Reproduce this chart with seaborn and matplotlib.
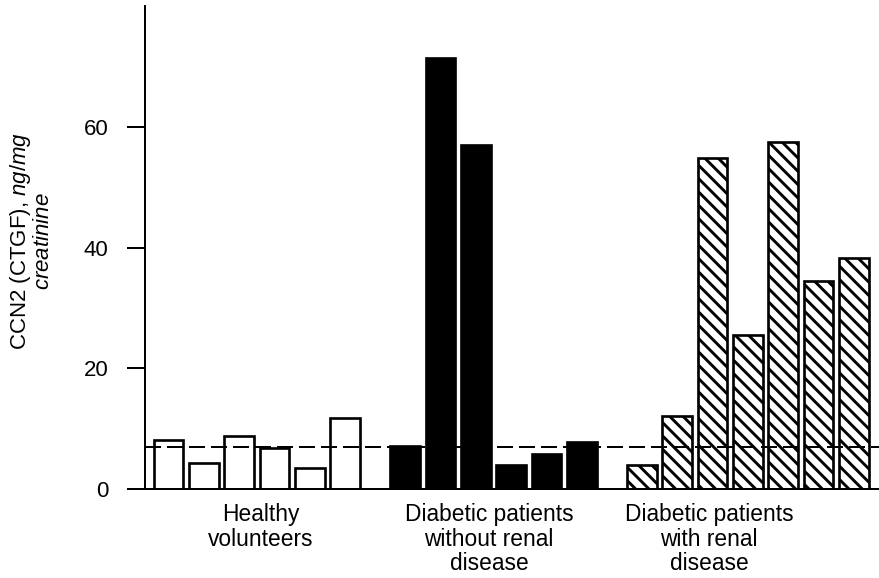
import matplotlib
matplotlib.use("Agg")
import matplotlib.pyplot as plt
import numpy as np
import pandas as pd
import seaborn as sns

# Urinary CCN2 (CTGF) per subject, ng/mg creatinine
healthy = [8.2, 4.4, 8.8, 6.9, 3.5, 11.8]
diabetic_no_renal = [7.1, 71.4, 57.0, 4.0, 5.8, 7.9]
diabetic_renal = [4.0, 12.2, 54.8, 25.5, 57.4, 34.5, 38.3]
cutoff = 7.0

groups = ["Healthy\nvolunteers",
          "Diabetic patients\nwithout renal\ndisease",
          "Diabetic patients\nwith renal\ndisease"]
group_values = [healthy, diabetic_no_renal, diabetic_renal]
group_fill = ["white", "black", "white"]
group_hatch = [None, None, "\\\\"]
y_ticks = [0, 20, 40, 60]

# Bar slots: one unit per subject, with a spacer between groups
group_gap = 0.7
rows = []
start = 0.0
group_starts = []
for g, vals in zip(groups, group_values):
    group_starts.append(start)
    for i, v in enumerate(vals):
        rows.append({"pos": round(start + i, 3), "value": v, "group": g})
    start += len(vals) + group_gap
df = pd.DataFrame(rows)

# Group captions sit slightly off the group centres
label_shift = [0.1, -0.13, -1.1]
label_pos = [s + (len(v) - 1) / 2 + d
             for s, v, d in zip(group_starts, group_values, label_shift)]

sns.set_theme(style="white")
plt.rcParams["font.family"] = ["Liberation Sans", "DejaVu Sans"]
plt.rcParams["mathtext.fontset"] = "custom"
plt.rcParams["mathtext.rm"] = "Liberation Sans"
plt.rcParams["mathtext.it"] = "Liberation Sans:italic"
plt.rcParams["hatch.linewidth"] = 2.6
plt.rcParams["hatch.color"] = "black"
for key in ("text.color", "axes.labelcolor", "xtick.color", "ytick.color"):
    plt.rcParams[key] = "black"

DPI = 80
fig = plt.figure(figsize=(879 / DPI, 578 / DPI), dpi=DPI)
ax = fig.add_axes([0.165, 0.1535, 0.835, 0.8365])

sns.barplot(data=df, x="pos", y="value", hue="group", hue_order=groups,
            palette=dict(zip(groups, group_fill)), native_scale=True,
            dodge=False, width=0.84, errorbar=None, legend=False,
            edgecolor="black", linewidth=2.4, ax=ax, zorder=2)

for cont, h in zip(ax.containers, group_hatch):
    if h:
        for p in cont.patches:
            p.set_hatch(h)

ax.axhline(cutoff, color="black", linewidth=1.8, dashes=(8, 3), zorder=3)

last = df["pos"].iloc[-1]
ax.set_xlim(-0.665, last + 0.71)
ax.set_ylim(0, 80)

ax.set_yticks(y_ticks)
ax.set_yticklabels([str(t) for t in y_ticks], fontsize=20)
ax.tick_params(axis="y", length=16, width=1.8, pad=17, color="black",
               direction="out", left=True)

ax.set_xticks(label_pos)
ax.set_xticklabels(groups, fontsize=20.5)
ax.tick_params(axis="x", length=0, pad=12.5)
for lab in ax.get_xticklabels():
    lab.set_linespacing(1.08)
ax.set_xlabel("")
ax.set_ylabel("")

for side in ("top", "right"):
    ax.spines[side].set_visible(False)
for side in ("left", "bottom"):
    ax.spines[side].set_color("black")
    ax.spines[side].set_linewidth(1.8)

fig.text(31 / 879, 1 - 241 / 578,
         "CCN2 (CTGF), $\\mathit{ng/mg}$\n$\\mathit{creatinine}$",
         rotation=90, ha="center", va="center", fontsize=20,
         linespacing=1.05)

fig.savefig("out.png", dpi=DPI, facecolor="white")
